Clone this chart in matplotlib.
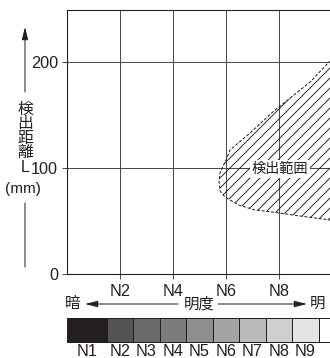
import matplotlib.pyplot as plt
from matplotlib.patches import Polygon
from matplotlib.transforms import IdentityTransform

plt.rcParams['font.family'] = ['Liberation Sans', 'Noto Sans CJK JP']

W, H = 330, 358
DPI = 60

# 検出範囲の境界 (明度 N, 検出距離 L mm)
upper_n = [5.74, 5.78, 6.0, 6.15, 6.91, 7.77, 8.42, 9.17, 9.85, 10.4]
upper_l = [86.8, 96, 107.5, 117, 133, 153, 166, 181, 199, 210]
lower_n = [5.78, 5.96, 6.49, 7.09, 7.74, 8.79, 9.92, 10.4]
lower_l = [78, 72.6, 65, 60.4, 58.5, 54.7, 51, 50]

x_ticks = [2, 4, 6, 8]
x_labels = ['N2', 'N4', 'N6', 'N8']
y_ticks = [0, 100, 200]

# 明度スケール
swatch_labels = ['N1', 'N2', 'N3', 'N4', 'N5', 'N6', 'N7', 'N8', 'N9', '']
swatch_edges = [0, 1.5, 2.5, 3.5, 4.5, 5.5, 6.5, 7.5, 8.5, 9.5, 10.5]
swatch_colors = ['#231f20', '#545456', '#6a6a6c', '#7c7c7e', '#8f8f91',
                 '#a4a4a6', '#b9b9bb', '#cfcfd0', '#e4e4e5', '#ffffff']

INK = '#231f20'
XMAX = (W - 67) / 26.5
YMAX = (274 - 10) / 1.06


def fx(px):
    return px / W


def fy(py):
    return 1 - py / H


fig = plt.figure(figsize=(W / DPI, H / DPI), dpi=DPI)
ax = fig.add_axes([fx(67), fy(274), 1 - fx(67), fy(10) - fy(274)])
ax.set_xlim(0, XMAX)
ax.set_ylim(0, YMAX)

ax.set_xticks(x_ticks, x_labels)
ax.set_yticks(y_ticks)
ax.grid(True, color='#4a4a4a', lw=1.2)
ax.set_axisbelow(True)
ax.tick_params(direction='out', length=6, width=1.2, color='#4a4a4a',
               labelsize=19.5, labelcolor=INK)
ax.tick_params(axis='x', pad=6)
ax.tick_params(axis='y', pad=4.5)
for s in ['left', 'bottom', 'top']:
    ax.spines[s].set_color(INK)
    ax.spines[s].set_linewidth(1.3)
ax.spines['right'].set_visible(False)

# 検出範囲 (斜線)
pts_n = upper_n[::-1] + lower_n
pts_l = upper_l[::-1] + lower_l
area = Polygon(list(zip(pts_n, pts_l)), closed=True, facecolor='none',
               edgecolor='none', lw=0)
ax.add_patch(area)
for c in range(-400, 400, 10):
    ln, = ax.plot([0, 500], [c, c + 500], color=INK, lw=1.1,
                  transform=IdentityTransform())
    ln.set_clip_path(area)
ax.plot(pts_n, pts_l, color=INK, lw=1.2, ls=(0, (3, 1.8)))

ax.text(8.04, 99, '検出範囲', fontsize=17, ha='center', va='center',
        color=INK, zorder=5,
        bbox=dict(boxstyle='square,pad=0.15', fc='white', ec='none'))

# 縦軸ラベル
for i, ch in enumerate('検出距離L'):
    fig.text(fx(25), fy(109 + i * 14.6), ch, fontsize=19, ha='center',
             va='center', color=INK)
fig.text(fx(23), fy(189), '(mm)', fontsize=18.5, ha='center', va='center',
         color=INK)
arrow = dict(arrowstyle='-|>,head_length=0.8,head_width=0.2',
             mutation_scale=16, lw=1.2, color=INK, shrinkA=0, shrinkB=0)
ax.annotate('', xy=(25, H - 27), xycoords='figure pixels',
            xytext=(25, H - 92), textcoords='figure pixels',
            arrowprops=arrow, annotation_clip=False)
ax.annotate('', xy=(25, H - 267), xycoords='figure pixels',
            xytext=(25, H - 203), textcoords='figure pixels',
            arrowprops=dict(arrowstyle='-', lw=1.2, color=INK,
                            shrinkA=0, shrinkB=0),
            annotation_clip=False)

# 明度の矢印
fig.text(fx(73), fy(304), '暗', fontsize=18.5, ha='center', va='center',
         color=INK)
fig.text(fx(199), fy(304), '明度', fontsize=18.5, ha='center', va='center',
         color=INK)
fig.text(fx(317), fy(304), '明', fontsize=18.5, ha='center', va='center',
         color=INK)
ax.annotate('', xy=(85, H - 304), xycoords='figure pixels',
            xytext=(178, H - 304), textcoords='figure pixels',
            arrowprops=arrow, annotation_clip=False)
ax.annotate('', xy=(307, H - 304), xycoords='figure pixels',
            xytext=(218, H - 304), textcoords='figure pixels',
            arrowprops=arrow, annotation_clip=False)

# 明度スケール
ax2 = fig.add_axes([fx(67), fy(342), 1 - fx(67), fy(318) - fy(342)])
ax2.set_xlim(0, XMAX)
ax2.set_ylim(0, 1)
ax2.axis('off')
lefts = swatch_edges[:-1]
widths = [b - a for a, b in zip(swatch_edges[:-1], swatch_edges[1:])]
ax2.bar(lefts, 1, width=widths, align='edge', color=swatch_colors,
        edgecolor=INK, lw=1.2, clip_on=False)
for a, w, lab in zip(lefts, widths, swatch_labels):
    ax2.text(a + w / 2, -14 / 24, lab, fontsize=19.5, ha='center',
             va='baseline', color=INK)

fig.savefig('out.png', dpi=DPI)
